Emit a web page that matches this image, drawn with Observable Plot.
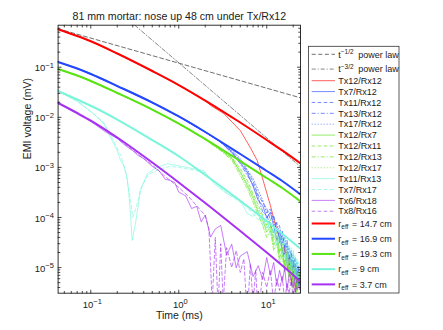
<!DOCTYPE html>
<html>
<head>
<meta charset="utf-8">
<script src="https://cdn.jsdelivr.net/npm/d3@7"></script>
<script src="https://cdn.jsdelivr.net/npm/@observablehq/plot@0.6"></script>
<style>
html, body { margin: 0; padding: 0; background: #ffffff; }
#chart { width: 443px; height: 330px; overflow: hidden; }
</style>
</head>
<body>
<div id="chart"></div>
<script>
// ---------------- data ----------------
const chartTitle = "81 mm mortar: nose up 48 cm under Tx/Rx12";
const xLabel = "Time (ms)";
const yLabel = "EMI voltage (mV)";

const xMajorTicks = [0.1, 1, 10];
const xMinorTicks = [0.05,0.06,0.07,0.08,0.09,0.2,0.3,0.4,0.5,0.6,0.7,0.8,0.9,2,3,4,5,6,7,8,9,20];
const yMajorTicks = [1e-5,1e-4,1e-3,1e-2,1e-1];
const yMinorTicks = [4e-6,5e-6,6e-6,7e-6,8e-6,9e-6,
  2e-5,3e-5,4e-5,5e-5,6e-5,7e-5,8e-5,9e-5,
  2e-4,3e-4,4e-4,5e-4,6e-4,7e-4,8e-4,9e-4,
  0.002,0.003,0.004,0.005,0.006,0.007,0.008,0.009,
  0.02,0.03,0.04,0.05,0.06,0.07,0.08,0.09,
  0.2,0.3,0.4,0.5,0.6];

// power-law guide lines
const powerLabels = ["t^−1/2 power law", "t^−3/2 power law"];
const powerHalfTime = [0.0425, 24.2];
const powerHalfValue = [0.585, 0.0245];
const powerThreeHalfTime = [0.316, 24.2];
const powerThreeHalfValue = [0.69, 0.00103];

// fitted curves
const fitLabels = ["r_eff = 14.7 cm", "r_eff = 16.9 cm", "r_eff = 19.3 cm", "r_eff = 9 cm", "r_eff = 3.7 cm"];
const fitTime   = [0.0425, 0.07, 0.1, 0.2, 0.5, 1, 2, 5, 10, 15, 24.2];
const fitRed    = [0.573, 0.420, 0.330, 0.188, 0.0840, 0.0441, 0.0216, 0.00787, 0.00352, 0.00218, 0.00120];
const fitBlue   = [0.127, 0.0942, 0.0732, 0.0421, 0.0197, 0.0104, 0.00509, 0.00185, 0.000847, 0.000535, 0.000288];
const fitGreen  = [0.0921, 0.0683, 0.0530, 0.0306, 0.0143, 0.00752, 0.00369, 0.00134, 0.000614, 0.000388, 0.000209];
const fitCyan   = [0.0335, 0.0227, 0.0170, 0.00904, 0.00352, 0.00167, 0.000705, 0.000216, 0.0000840, 0.0000473, 0.0000237];
const fitPurple = [0.0193, 0.0122, 0.00863, 0.00395, 0.00125, 0.000500, 0.000195, 0.0000538, 0.0000200, 0.0000110, 0.00000528];

// measured data
const dataLabels = ["Tx12/Rx12","Tx7/Rx12","Tx11/Rx12","Tx13/Rx12","Tx17/Rx12","Tx12/Rx7","Tx12/Rx11","Tx12/Rx13","Tx12/Rx17","Tx11/Rx13","Tx7/Rx17","Tx6/Rx18","Tx8/Rx16"];

const redThinTime = [0.0425, 0.1, 0.2, 0.5, 1, 2, 2.3, 3.25, 5.0, 6.5, 7.8, 8.9, 11, 12.6, 14.3, 15.5, 16.3, 17.2, 18.1, 19.1, 20.1, 21.2, 22.3, 23.5, 24.2];
const redThin = [0.573, 0.330, 0.188, 0.0840, 0.0441, 0.0216, 0.0172, 0.0119, 0.00545, 0.00250, 0.00137, 0.000629, 0.000174, 0.0000692, 0.0000348, 0.0000174, 0.0000276, 0.00000875, 0.0000174, 0.00000439, 0.0000126, 0.00000318, 0.00000875, 0.00000553, 0.0000070];

const blueTime = [0.0425,0.07,0.1,0.15,0.2,0.3,0.5,0.7,1,1.5,2,3,4,5,6,7,8,9,10,11,12,13,14,15,16,17,18,19,20,21,22,23,24];
const blueSolid = [0.128,0.0960,0.0748,0.0551,0.0430,0.0312,0.0203,0.0150,0.0106,0.00705,0.00515,
  0.00321,0.00203,0.00126,0.000795,0.000418,0.000219,0.000174,0.000097,0.000128,0.000067,0.0000352,0.0000509,0.0000203,0.0000279,0.0000128,0.0000177,0.0000088,0.000014,0.0000061,0.0000097,0.0000044,0.0000081];
const blueDashed = [0.126,0.0935,0.0725,0.0525,0.0418,0.0297,0.0195,0.0143,0.0103,0.0068,0.00505,
  0.00318,0.00210,0.00140,0.00085,0.00052,0.00028,0.00020,0.00015,0.00009,0.00011,0.00006,0.00004,0.000055,0.000025,0.000035,0.000015,0.000022,0.000009,0.000016,0.000006,0.000011,0.000004];
const blueDashDot = [0.1265,0.0940,0.0730,0.0530,0.0422,0.0300,0.0197,0.0144,0.0104,0.0068,0.00508,
  0.00315,0.00195,0.00118,0.00070,0.00045,0.00025,0.00013,0.00011,0.00007,0.00005,0.00008,0.00003,0.000045,0.000018,0.00003,0.00001,0.000019,0.000007,0.000012,0.000005,0.000009,0.0000035];
const blueDotted = [0.127,0.0942,0.0732,0.0530,0.0421,0.0301,0.0197,0.01445,0.0104,0.00685,0.00509,
  0.0032,0.0022,0.0015,0.0009,0.0006,0.00035,0.00022,0.00012,0.00015,0.00008,0.00005,0.00007,0.00003,0.00004,0.00002,0.000025,0.000012,0.000018,0.000008,0.000013,0.000006,0.000009];

const greenTime = [0.0425,0.07,0.1,0.2,0.5,1,1.5,2,3,4,5,6,7,8,9,10,11,12,13,14,15,16,17,18,19,20,21,22,23,24];
const greenSolid = [0.0921,0.0683,0.0530,0.0306,0.0143,0.00752,0.0049,0.0036,
  0.00222,0.00154,0.000795,0.000437,0.000241,0.000128,0.000088,0.000051,0.000067,0.0000279,0.000038,0.0000153,0.000022,0.0000097,0.0000168,0.0000067,0.0000128,0.0000046,0.0000088,0.0000035,0.000007,0.0000051];
const greenDashed = [0.0918,0.0680,0.0528,0.0304,0.0142,0.00748,0.00492,0.00362,
  0.00228,0.00160,0.00095,0.00055,0.00030,0.00018,0.00011,0.00007,0.00009,0.00004,0.00005,0.00002,0.00003,0.000012,0.00002,0.000008,0.000015,0.000006,0.00001,0.000004,0.000008,0.000005];
const greenDashDot = [0.0922,0.0685,0.0531,0.0305,0.0143,0.0075,0.00488,0.00355,
  0.00215,0.00140,0.00070,0.00038,0.00020,0.00011,0.00007,0.00004,0.000055,0.000022,0.00003,0.000012,0.000018,0.000008,0.000014,0.000005,0.00001,0.0000035,0.000007,0.000003,0.000006,0.0000042];
const greenDotted = [0.0921,0.0683,0.0530,0.0306,0.0143,0.00752,0.00495,0.00364,
  0.00225,0.00150,0.00085,0.00048,0.00027,0.00015,0.0001,0.00006,0.00008,0.000035,0.000045,0.00002,0.000026,0.000011,0.00002,0.000008,0.000014,0.000005,0.00001,0.000004,0.000008,0.000006];

const cyanSolidTime = [0.0425,0.0701,0.108,0.1405,0.1826,0.1995,0.2176,0.2371,0.2592,0.2703,0.2826,0.2954,0.3221,0.3671,0.4375,0.5682,0.7384,0.959,1.481,1.923,2.498,3.548,5.025,5.987,
  7,8,9,10,11,12,13,14,15,16,17,18,19,20,21,22,23,24];
const cyanSolid = [0.0335,0.0207,0.01175,0.00742,0.00296,0.00218,0.00137,0.00109,0.00060,0.00030,0.000119,0.0000348,0.0000759,0.000346,0.000745,0.00101,0.00118,0.00109,0.000938,0.000867,0.000477,0.000297,0.000218,0.000120,
  0.000105,0.000140,0.000070,0.000095,0.000045,0.000065,0.000028,0.000048,0.000018,0.000038,0.000011,0.000028,0.000007,0.000022,0.000005,0.000015,0.000006,0.000012];
const cyanDashedTime = [0.0425,0.07,0.1,0.14,0.18,0.22,0.25,0.28,0.3,0.33,0.37,0.45,0.6,0.8,1,1.5,2,2.5,3.5,5,6,
  7,8,9,10,11,12,13,14,15,16,17,18,19,20,21,22,23,24];
const cyanDashed = [0.0335,0.0215,0.0130,0.0080,0.0035,0.0017,0.0008,0.00025,0.0001,0.00016,0.00038,0.00072,0.00092,0.00105,0.00100,0.00088,0.00078,0.00052,0.00031,0.00020,0.00016,
  0.00012,0.00009,0.00011,0.00006,0.00008,0.00004,0.00006,0.000025,0.00004,0.000015,0.00003,0.00001,0.000025,0.000008,0.000018,0.000006,0.000013,0.000009];

const purpleSolidTime = [0.0425,0.07,0.1,0.15,0.2,0.25,0.3,0.35,0.4,0.5,0.6,0.7,0.8,0.9,1,1.2,1.4,1.6,1.8,2,2.3,2.6,3,3.5,4,4.5,5,6,7,8,9,10,11,12,13,14,15,16,17,18,19,20,21,22,23,24];
const purpleSolid = [0.0193,0.01164,0.00825,0.00500,0.00377,0.00270,0.00215,0.00170,0.00150,0.00105,
  0.00085,0.00058,0.00055,0.00050,0.00032,0.000270,0.000151,0.000167,0.0000817,0.000112,
  0.0000405,0.0000590,0.0000696,0.0000178,0.0000293,0.0000099,0.0000170,0.0000208,0.0000066,0.0000109,
  0.0000058,0.0000159,0.0000070,0.0000126,0.0000044,0.0000088,0.0000051,0.0000097,0.0000035,0.0000074,0.0000058,0.0000040,0.0000066,0.0000049,0.0000058,0.0000042];
const purpleDashedTime = [0.0425,0.07,0.1,0.15,0.2,0.3,0.4,0.5,0.7,1,1.3,1.6,2,2.2,2.4,2.6,2.8,3.0,3.2,3.5,4,4.5,5,5.5,6,6.5,7,7.5,8,9,10,11,12,13,14,15,16,17,18,19,20,21,22,23,24];
const purpleDashed = [0.0192,0.0121,0.0085,0.0053,0.0038,0.0022,0.0015,0.00112,0.00066,0.00040,
  0.00026,0.00017,0.00011,0.00006,0.000002,0.00004,0.0000015,0.00003,0.000002,0.000025,
  0.00001,0.000022,0.000008,0.000015,0.000001,0.000012,0.000002,0.000009,0.000001,0.000008,
  0.000004,0.000009,0.000002,0.000006,0.0000035,0.000007,0.000002,0.000005,0.000003,0.000006,0.000002,0.000005,0.0000035,0.0000045,0.000003];

// ---------------- styles ----------------
const RED = "#ff0000", BLUE = "#2448ff", GREEN = "#58e412", CYAN = "#7af5dc", PURPLE = "#a631f2";
const DASH = "3.5,2.5", DASHDOT = "4,2,1,2", DOT = "1,2";
const FONT = "'Liberation Sans', Arial, Helvetica, sans-serif";

const toRows = (ts, vs) => ts.map((t, i) => ({t, v: vs[i]}));

const powerSeries = [
  {label: powerLabels[0], rows: toRows(powerHalfTime, powerHalfValue), color: "#4a4a4a", dash: "4,2.6", width: 0.8, opacity: 1},
  {label: powerLabels[1], rows: toRows(powerThreeHalfTime, powerThreeHalfValue), color: "#6a6a6a", dash: "4,2,1,2", width: 0.8, opacity: 1}
];
const thinSeries = [
  [redThinTime, redThin, RED, null],
  [blueTime, blueSolid, BLUE, null],
  [blueTime, blueDashed, BLUE, DASH],
  [blueTime, blueDashDot, BLUE, DASHDOT],
  [blueTime, blueDotted, BLUE, DOT],
  [greenTime, greenSolid, GREEN, null],
  [greenTime, greenDashed, GREEN, DASH],
  [greenTime, greenDashDot, GREEN, DASHDOT],
  [greenTime, greenDotted, GREEN, DOT],
  [cyanSolidTime, cyanSolid, CYAN, null],
  [cyanDashedTime, cyanDashed, CYAN, DASH],
  [purpleSolidTime, purpleSolid, PURPLE, null],
  [purpleDashedTime, purpleDashed, PURPLE, DASH]
].map(([t, v, color, dash], i) => ({label: dataLabels[i], rows: toRows(t, v), color, dash, width: 0.9, opacity: 0.7}));
const fitSeries = [fitRed, fitBlue, fitGreen, fitCyan, fitPurple].map((v, i) => ({
  label: fitLabels[i], rows: toRows(fitTime, v), color: [RED, BLUE, GREEN, CYAN, PURPLE][i], dash: null, width: 2, opacity: 1
}));

const lineMark = (s, curve) => Plot.line(s.rows, {
  x: "t", y: "v", stroke: s.color, strokeWidth: s.width, strokeOpacity: s.opacity,
  strokeDasharray: s.dash || undefined, curve, clip: true
});

const tickShape = {draw(context, l) { context.moveTo(0, 0); context.lineTo(0, -l); }};
const tickMarks = (values, axis, anchor, rotate, len) => Plot.vector(values, {
  [axis]: d => d, frameAnchor: anchor, length: len, rotate, anchor: "start",
  shape: tickShape, stroke: "#1a1a1a", strokeWidth: 0.8
});
const expFormat = d => "10^" + String(Math.round(Math.log10(d))).replace("-", "\u2212");

const svg = Plot.plot({
  width: 443, height: 330,
  marginLeft: 57.6, marginRight: 143, marginTop: 24.7, marginBottom: 37.3,
  style: {fontFamily: FONT, fontSize: "9.5px", color: "#1a1a1a", background: "#ffffff"},
  x: {type: "log", domain: [0.0425, 24.2]},
  y: {type: "log", domain: [3.08e-6, 0.69]},
  marks: [
    ...powerSeries.map(s => lineMark(s, "linear")),
    ...thinSeries.map(s => lineMark(s, "linear")),
    ...fitSeries.map(s => lineMark(s, "monotone-x")),
    Plot.frame({stroke: "#1a1a1a", strokeWidth: 0.9}),
    tickMarks(xMajorTicks, "x", "bottom", 0, 3), tickMarks(xMinorTicks, "x", "bottom", 0, 1.8),
    tickMarks(xMajorTicks, "x", "top", 180, 3), tickMarks(xMinorTicks, "x", "top", 180, 1.8),
    tickMarks(yMajorTicks, "y", "left", 90, 3), tickMarks(yMinorTicks, "y", "left", 90, 1.8),
    tickMarks(yMajorTicks, "y", "right", -90, 3), tickMarks(yMinorTicks, "y", "right", -90, 1.8),
    Plot.axisX(xMajorTicks, {anchor: "bottom", tickSize: 0, tickPadding: 7.6, tickFormat: expFormat, label: null, fontSize: 9.5, dx: 1.5}),
    Plot.axisY(yMajorTicks, {anchor: "left", tickSize: 0, tickPadding: 4.2, tickFormat: expFormat, label: null, fontSize: 9.5, dy: 1}),
    Plot.text([xLabel], {frameAnchor: "bottom", dy: 25.8, text: d => d, fontSize: 10.5}),
    Plot.text([yLabel], {frameAnchor: "left", dx: -30.6, rotate: -90, text: d => d, fontSize: 10.5}),
    Plot.text([chartTitle], {frameAnchor: "top", dy: -12.4, text: d => d, fontSize: 10.6})
  ]
});

// superscript exponents on tick labels
d3.select(svg).selectAll("text").each(function() {
  const s = this.textContent;
  if (s.startsWith("10^")) {
    const sel = d3.select(this);
    sel.text("10");
    sel.append("tspan").attr("dy", "-0.45em").attr("font-size", "7.5px").text(s.slice(3));
  }
});

// ---------------- legend ----------------
const lg = d3.select(svg).append("g")
  .attr("font-family", FONT).attr("font-size", "9px").attr("fill", "#1a1a1a")
  .attr("text-anchor", "start");
lg.append("rect").attr("x", 308.5).attr("y", 46.3).attr("width", 90.5).attr("height", 246.7)
  .attr("fill", "#ffffff").attr("stroke", "#333333").attr("stroke-width", 0.8);
const legendSeries = [...powerSeries, ...thinSeries, ...fitSeries];
legendSeries.forEach((s, i) => {
  const y = i < 2 ? 54.3 + i * 14.8 : i < 15 ? 80.7 + (i - 2) * 10.88 : 223.5 + (i - 15) * 15.22;
  lg.append("line").attr("x1", 311.7).attr("x2", 335).attr("y1", y).attr("y2", y)
    .attr("stroke", s.color).attr("stroke-width", s.width).attr("stroke-opacity", s.opacity)
    .attr("stroke-dasharray", s.dash || null);
  const txt = lg.append("text").attr("x", 338.3).attr("y", y + 3.2).attr("text-anchor", "start");
  const lab = s.label;
  if (lab.includes("^")) {
    const [base, rest] = lab.split("^");
    const sp = rest.indexOf(" ");
    txt.append("tspan").text(base);
    txt.append("tspan").attr("dy", -3.6).attr("font-size", "6.5px").text(rest.slice(0, sp));
    txt.append("tspan").attr("dy", 3.6).attr("dx", 2).text(rest.slice(sp));
  } else if (lab.includes("_")) {
    const [base, rest] = lab.split("_");
    const sp = rest.indexOf(" ");
    txt.append("tspan").text(base);
    txt.append("tspan").attr("dy", 2.6).attr("font-size", "6.5px").text(rest.slice(0, sp));
    txt.append("tspan").attr("dy", -2.6).attr("dx", 1).text(rest.slice(sp));
  } else {
    txt.text(lab);
  }
});

document.getElementById("chart").appendChild(svg);
</script>
</body>
</html>
